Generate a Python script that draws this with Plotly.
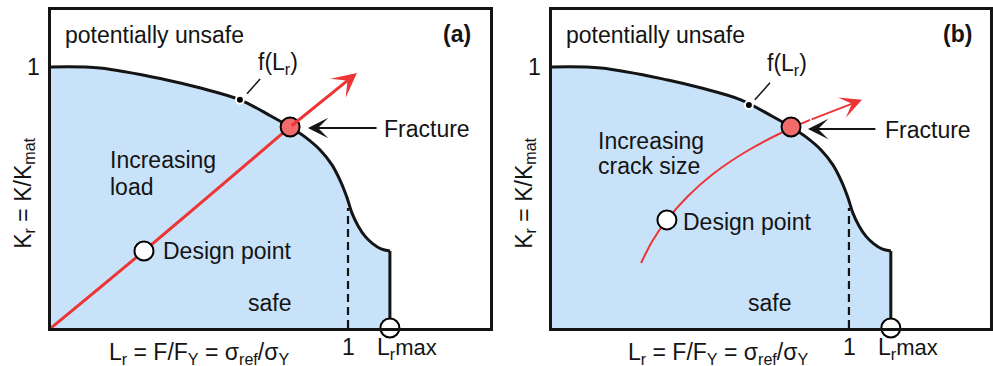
import plotly.graph_objects as go
from plotly.subplots import make_subplots

# Failure assessment curve f(Lr), read as (Lr, Kr) pairs
curve_lr = [0.0, 0.165, 0.39, 0.50, 0.636, 0.74, 0.805, 0.855, 0.906, 0.946,
            0.976, 0.997, 1.013, 1.034, 1.057, 1.084, 1.111, 1.141]
curve_kr = [1.0, 0.996, 0.950, 0.920, 0.874, 0.812, 0.770, 0.732, 0.682, 0.625,
            0.559, 0.498, 0.441, 0.391, 0.352, 0.322, 0.303, 0.295]
lr_max = 1.141
kr_at_lrmax = 0.295
dash_top = 0.46          # top of the dashed Lr = 1 marker

# Panel (a): increasing load, straight load line through the origin
load_lr = [0.0, 0.313, 0.805]
load_kr = [0.0, 0.295, 0.770]
load_tip = (1.030, 0.977)

# Panel (b): increasing crack size
crack_lr = [0.300, 0.340, 0.387, 0.455, 0.542, 0.657, 0.764, 0.869]
crack_kr = [0.249, 0.337, 0.414, 0.502, 0.590, 0.678, 0.743, 0.797]
crack_tip = (1.044, 0.874)

design_a = (0.313, 0.295)
design_b = (0.387, 0.414)
fracture_pt = (0.805, 0.770)
f_dot_a = (0.636, 0.874)
f_dot_b = (0.663, 0.854)

FILL = "#c8e2fa"
RED = "#ee3535"
FRACT = "#f26b6b"
INK = "#141414"
FONT = "Liberation Sans, Arial, sans-serif"
FS = 23

# panel geometry (pixels) used to place labels that sit outside the axes
W, H = 993, 366
LEFT = {1: 51, 2: 552}
PX_PER_X, PX_PER_Y, BOTTOM = 297, 261, 328

fig = make_subplots(rows=1, cols=2)


def to_paper(col, x, y):
    return (LEFT[col] + x * PX_PER_X) / W, 1 - (BOTTOM - y * PX_PER_Y) / H


def add_panel(col, path_lr, path_kr, path_w, tip, design, fdot, head_size):
    xa = "x" if col == 1 else "x2"
    ya = "y" if col == 1 else "y2"
    # safe region under the assessment curve
    fig.add_trace(go.Scatter(x=curve_lr, y=curve_kr, mode="lines",
                             line=dict(color="rgba(0,0,0,0)", width=0, shape="spline", smoothing=1.0),
                             fill="tozeroy", fillcolor=FILL, hoverinfo="skip"), row=1, col=col)
    # load / crack path
    fig.add_trace(go.Scatter(x=path_lr, y=path_kr, mode="lines",
                             line=dict(color=RED, width=path_w, shape="spline", smoothing=1.0),
                             hoverinfo="skip"), row=1, col=col)
    fig.add_annotation(x=tip[0], y=tip[1], ax=path_lr[-1], ay=path_kr[-1],
                       xref=xa, yref=ya, axref=xa, ayref=ya, text="", showarrow=True,
                       arrowhead=3, arrowsize=head_size, arrowwidth=path_w,
                       arrowcolor=RED, standoff=0)
    # assessment curve and Lr max cut-off
    fig.add_trace(go.Scatter(x=curve_lr, y=curve_kr, mode="lines",
                             line=dict(color=INK, width=3, shape="spline", smoothing=1.0),
                             hoverinfo="skip"), row=1, col=col)
    fig.add_trace(go.Scatter(x=[lr_max, lr_max], y=[kr_at_lrmax, 0], mode="lines",
                             line=dict(color=INK, width=3), hoverinfo="skip"), row=1, col=col)
    fig.add_trace(go.Scatter(x=[1, 1], y=[0, dash_top], mode="lines",
                             line=dict(color=INK, width=2.2, dash="8px,5px"), hoverinfo="skip"),
                  row=1, col=col)
    # f(Lr) point
    fig.add_trace(go.Scatter(x=[fdot[0]], y=[fdot[1]], mode="markers",
                             marker=dict(size=8, color="black", line=dict(color="white", width=2)),
                             hoverinfo="skip"), row=1, col=col)
    # design point, fracture point, Lr max
    fig.add_trace(go.Scatter(x=[design[0]], y=[design[1]], mode="markers",
                             marker=dict(size=19, color="white", line=dict(color="black", width=2)),
                             hoverinfo="skip"), row=1, col=col)
    fig.add_trace(go.Scatter(x=[fracture_pt[0]], y=[fracture_pt[1]], mode="markers",
                             marker=dict(size=19, color=FRACT, line=dict(color="black", width=2)),
                             hoverinfo="skip"), row=1, col=col)
    fig.add_trace(go.Scatter(x=[lr_max], y=[0], mode="markers", cliponaxis=False,
                             marker=dict(size=19, color="white", line=dict(color="black", width=2)),
                             hoverinfo="skip"), row=1, col=col)


add_panel(1, load_lr, load_kr, 3, load_tip, design_a, f_dot_a, 1.35)
add_panel(2, crack_lr, crack_kr, 2, crack_tip, design_b, f_dot_b, 1.8)

fig.update_traces(showlegend=False)

ax_common = dict(showline=True, mirror=True, linecolor=INK, linewidth=2.5,
                 showgrid=False, zeroline=False, showticklabels=False, ticks="")
fig.update_layout(
    xaxis=dict(domain=[51 / W, 490 / W], range=[0, 1.478], **ax_common),
    xaxis2=dict(domain=[552 / W, 990 / W], range=[0, 1.475], **ax_common),
    yaxis=dict(domain=[1 - 328 / H, 1 - 10 / H], range=[0, 1.218], **ax_common),
    yaxis2=dict(domain=[1 - 328 / H, 1 - 10 / H], range=[0, 1.218], **ax_common),
)


def label(text, x, y, col, xanchor="left", bold=False, size=FS, angle=0):
    px, py = to_paper(col, x, y)
    if xanchor == "left":
        px -= 2 / W      # compensate for the annotation's inner padding
    fig.add_annotation(x=px, y=py, xref="paper", yref="paper",
                       text=f"<b>{text}</b>" if bold else text, textangle=angle,
                       showarrow=False, xanchor=xanchor, yanchor="middle",
                       font=dict(family=FONT, size=size, color=INK))


xtitle = "L<sub>r</sub> = F/F<sub>Y</sub> = σ<sub>ref</sub>/σ<sub>Y</sub>"
ytitle = "K<sub>r</sub> = K/K<sub>mat</sub>"
lrmax_txt = "L<sub>r</sub><span style='font-size:22px'>max</span>"
flr_txt = "f(L<sub>r</sub>)"

for col, tag in [(1, "(a)"), (2, "(b)")]:
    label("potentially unsafe", 0.047, 1.123, col)
    label(tag, 1.367, 1.127, col, xanchor="center", bold=True)
    label("1", -0.030, 1.0, col, xanchor="right")
    label("1", 1.0, -0.073, col, xanchor="center")
    label(lrmax_txt, 1.098, -0.080, col)
    label("safe", 0.663 if col == 1 else 0.660, 0.094, col)
    label("Fracture", 1.121, 0.762 if col == 1 else 0.759, col)
    label(ytitle, -0.092, 0.517, col, xanchor="center", angle=-90)

label(xtitle, 0.498, -0.096, 1, xanchor="center")
label(xtitle, 0.559, -0.096, 2, xanchor="center")
label(flr_txt, 0.764, 1.015, 1, xanchor="center")
label(flr_txt, 0.791, 1.008, 2, xanchor="center")
label("Increasing", 0.199, 0.644, 1)
label("load", 0.199, 0.540, 1)
label("Increasing", 0.155, 0.716, 2)
label("crack size", 0.155, 0.621, 2)
label("Design point", 0.377, 0.295, 1)
label("Design point", 0.441, 0.406, 2)

# leader lines from the f(Lr) labels to their curve points
fig.add_trace(go.Scatter(x=[0.660, 0.704], y=[0.897, 0.954], mode="lines",
                         line=dict(color=INK, width=1.5), showlegend=False, hoverinfo="skip"),
              row=1, col=1)
fig.add_trace(go.Scatter(x=[0.683, 0.734], y=[0.874, 0.939], mode="lines",
                         line=dict(color=INK, width=1.5), showlegend=False, hoverinfo="skip"),
              row=1, col=2)

# arrows pointing at the fracture point
for col, (head, tail, yv) in [(1, (0.865, 1.101, 0.766)), (2, (0.862, 1.094, 0.762))]:
    xa = "x" if col == 1 else "x2"
    ya = "y" if col == 1 else "y2"
    fig.add_annotation(x=head, y=yv, ax=tail, ay=yv, xref=xa, yref=ya, axref=xa, ayref=ya,
                       text="", showarrow=True, arrowhead=3, arrowsize=1.7, arrowwidth=2,
                       arrowcolor=INK, standoff=0)

fig.update_layout(width=W, height=H, margin=dict(l=0, r=0, t=0, b=0),
                  plot_bgcolor="white", paper_bgcolor="white",
                  font=dict(family=FONT, size=FS, color=INK))

fig.write_html("out.html")
